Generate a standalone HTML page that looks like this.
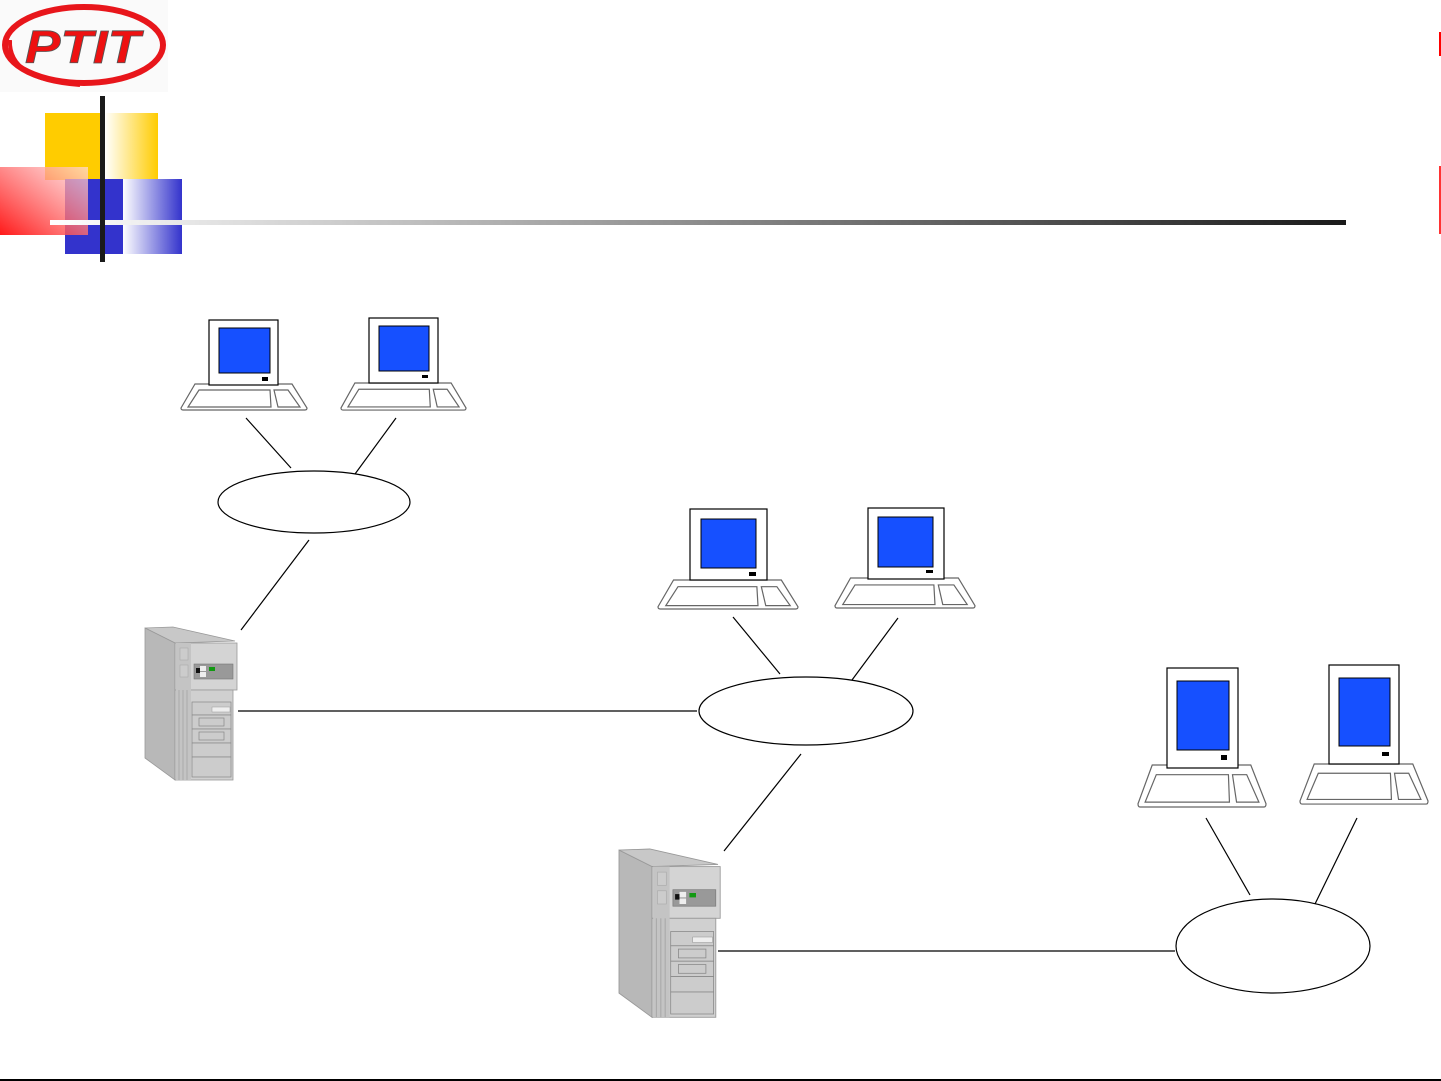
<!DOCTYPE html>
<html><head><meta charset="utf-8"><style>html,body{margin:0;padding:0;background:#fff;width:1441px;height:1081px;overflow:hidden}</style></head>
<body>
<svg width="1441" height="1081" viewBox="0 0 1441 1081" xmlns="http://www.w3.org/2000/svg">
<defs>
<linearGradient id="gy" x1="0" x2="1"><stop offset="0" stop-color="#fff"/><stop offset="1" stop-color="#ffcc00"/></linearGradient>
<linearGradient id="gb" x1="0" x2="1"><stop offset="0" stop-color="#fff"/><stop offset="1" stop-color="#3333cc"/></linearGradient>
<linearGradient id="gr" x1="0" x2="1" y1="1" y2="0"><stop offset="0" stop-color="#ff0000"/><stop offset="1" stop-color="#ffdddd" stop-opacity="0.8"/></linearGradient>
<linearGradient id="gl" x1="0" x2="1"><stop offset="0" stop-color="#fff"/><stop offset="1" stop-color="#1a1a1a"/></linearGradient>
<g id="kb" fill="#fff" stroke="#666" stroke-width="1.2">
<path vector-effect="non-scaling-stroke" d="M14,0 L111,0 L126,24 Q126,26 124,26 L2,26 Q0,26 0,24 Z"/>
<path vector-effect="non-scaling-stroke" d="M18,6 L89,6 L90,23 L7,23 Z"/>
<path vector-effect="non-scaling-stroke" d="M93,6 L107,6 L119,23 L97,23 Z"/>
</g>
<g id="srv">
<polygon points="145,628 173,627 235,641 175,643" fill="#c8c8c8" stroke="#999" stroke-width="0.8"/>
<polygon points="145,628 175,643 175,780 145,758" fill="#b8b8b8" stroke="#999" stroke-width="0.8"/>
<rect x="175" y="643" width="62" height="47" fill="#d4d4d4" stroke="#999" stroke-width="0.8"/>
<rect x="175" y="690" width="58" height="90" fill="#d0d0d0" stroke="#999" stroke-width="0.8"/>
<rect x="176" y="643" width="15" height="137" fill="#c4c4c4"/>
<line x1="179" y1="690" x2="179" y2="780" stroke="#aaa"/><line x1="183" y1="690" x2="183" y2="780" stroke="#aaa"/><line x1="187" y1="690" x2="187" y2="780" stroke="#aaa"/>
<rect x="180" y="648" width="8" height="12" fill="#ccc" stroke="#aaa" stroke-width="0.6"/>
<rect x="180" y="665" width="8" height="12" fill="#ccc" stroke="#aaa" stroke-width="0.6"/>
<rect x="194" y="664" width="39" height="15" fill="#999" stroke="#777" stroke-width="0.6"/>
<rect x="196" y="668" width="4" height="5" fill="#111"/><rect x="200" y="666" width="6" height="5" fill="#eee"/><rect x="200" y="672" width="6" height="5" fill="#eee"/><rect x="209" y="667" width="6" height="4" fill="#119911"/>
<rect x="192" y="702" width="39" height="13" fill="#ccc" stroke="#888" stroke-width="0.7"/>
<rect x="212" y="707" width="18" height="5" fill="#eee" stroke="#999" stroke-width="0.5"/>
<rect x="192" y="715" width="39" height="14" fill="#ccc" stroke="#888" stroke-width="0.7"/>
<rect x="199" y="718" width="25" height="8" fill="#ccc" stroke="#888" stroke-width="0.7"/>
<rect x="192" y="729" width="39" height="14" fill="#ccc" stroke="#888" stroke-width="0.7"/>
<rect x="199" y="732" width="25" height="8" fill="#ccc" stroke="#888" stroke-width="0.7"/>
<rect x="192" y="743" width="39" height="14" fill="#ccc" stroke="#888" stroke-width="0.7"/>
<rect x="192" y="757" width="39" height="20" fill="#ccc" stroke="#888" stroke-width="0.7"/>
</g>
</defs>

<!-- header -->
<rect x="0" y="0" width="168" height="92" fill="#fafafa"/>
<ellipse cx="84" cy="45" rx="79" ry="38" fill="none" stroke="#e8161b" stroke-width="6"/>
<path d="M10,40 Q8,80 80,85" fill="none" stroke="#e8161b" stroke-width="4"/>
<text x="25" y="63" textLength="115" lengthAdjust="spacingAndGlyphs" font-family="Liberation Sans, sans-serif" font-weight="bold" font-style="italic" font-size="46" fill="#ee1111" stroke="#555" stroke-width="0.8">PTIT</text>
<rect x="45" y="113" width="56" height="67" fill="#ffcc00"/>
<rect x="105" y="113" width="53" height="67" fill="url(#gy)"/>
<rect x="65" y="179" width="58" height="75" fill="#3333cc"/>
<rect x="123" y="179" width="59" height="75" fill="url(#gb)"/>
<rect x="0" y="167" width="88" height="68" fill="url(#gr)" opacity="0.9"/>
<rect x="50" y="220" width="1296" height="5" fill="url(#gl)"/>
<rect x="100" y="96" width="5" height="166" fill="#1a1a1a"/>
<rect x="1439" y="32" width="2" height="24" fill="#ff0000"/>
<rect x="1439" y="166" width="2" height="68" fill="#ff3333"/>
<rect x="0" y="1079" width="1441" height="2" fill="#000"/>

<!-- connectors -->
<g stroke="#000" stroke-width="1.2" fill="none">
<line x1="246" y1="418" x2="291" y2="468"/>
<line x1="396" y1="418" x2="355" y2="474"/>
<line x1="309" y1="540" x2="241" y2="630"/>
<line x1="238" y1="711" x2="697" y2="711"/>
<line x1="733" y1="617" x2="780" y2="674"/>
<line x1="898" y1="618" x2="852" y2="680"/>
<line x1="801" y1="754" x2="724" y2="851"/>
<line x1="718" y1="951" x2="1175" y2="951"/>
<line x1="1206" y1="818" x2="1250" y2="895"/>
<line x1="1357" y1="818" x2="1315" y2="904"/>
<ellipse cx="314" cy="502" rx="96" ry="31"/>
<ellipse cx="806" cy="711" rx="107" ry="34"/>
<ellipse cx="1273" cy="946" rx="97" ry="47"/>
</g>

<!-- computers -->
<use href="#kb" transform="translate(181,384)"/>
<rect x="209" y="320" width="69" height="65" fill="#fff" stroke="#000" stroke-width="1.2"/>
<rect x="219" y="328" width="51" height="45" fill="#1650ff" stroke="#000"/>
<rect x="262" y="377" width="6" height="4" fill="#000"/>

<use href="#kb" transform="translate(341,383) scale(0.992,1.04)"/>
<rect x="369" y="318" width="69" height="65" fill="#fff" stroke="#000" stroke-width="1.2"/>
<rect x="379" y="326" width="50" height="45" fill="#1650ff" stroke="#000"/>
<rect x="422" y="375" width="6" height="3" fill="#000"/>

<use href="#kb" transform="translate(658,580) scale(1.111,1.115)"/>
<rect x="690" y="509" width="77" height="71" fill="#fff" stroke="#000" stroke-width="1.2"/>
<rect x="701" y="519" width="55" height="49" fill="#1650ff" stroke="#000"/>
<rect x="749" y="572" width="7" height="4" fill="#000"/>

<use href="#kb" transform="translate(835,578) scale(1.111,1.154)"/>
<rect x="868" y="508" width="76" height="71" fill="#fff" stroke="#000" stroke-width="1.2"/>
<rect x="878" y="517" width="55" height="50" fill="#1650ff" stroke="#000"/>
<rect x="926" y="570" width="7" height="3" fill="#000"/>

<use href="#kb" transform="translate(1138,765) scale(1.016,1.615)"/>
<rect x="1167" y="668" width="71" height="100" fill="#fff" stroke="#000" stroke-width="1.2"/>
<rect x="1177" y="681" width="52" height="69" fill="#1650ff" stroke="#000"/>
<rect x="1221" y="755" width="6" height="5" fill="#000"/>

<use href="#kb" transform="translate(1300,764) scale(1.016,1.54)"/>
<rect x="1329" y="665" width="70" height="99" fill="#fff" stroke="#000" stroke-width="1.2"/>
<rect x="1339" y="678" width="51" height="68" fill="#1650ff" stroke="#000"/>
<rect x="1382" y="752" width="7" height="4" fill="#000"/>

<!-- servers -->
<use href="#srv"/>
<use href="#srv" transform="translate(619,849) scale(1.1) translate(-145,-627)"/>
</svg>
</body></html>
